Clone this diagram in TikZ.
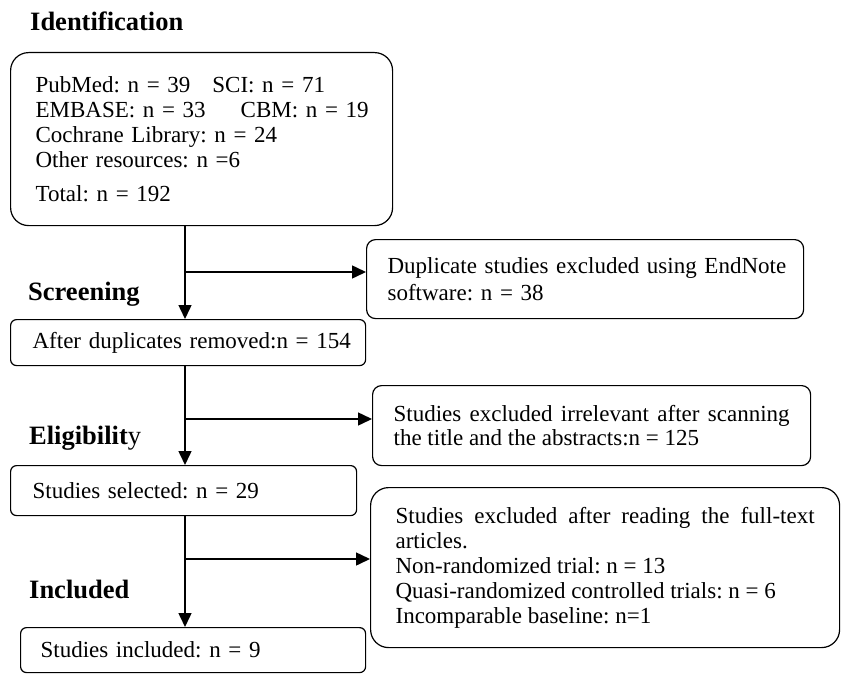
\documentclass[tikz,border=0pt]{standalone}
\usepackage{fontspec}
\setmainfont{Liberation Serif}
\usetikzlibrary{arrows.meta}
\tolerance=10000
\hbadness=10000
\hfuzz=50pt
\begin{document}
\frenchspacing
\begin{tikzpicture}[x=1pt,y=-1pt,
  box/.style={draw, line width=1.2pt, anchor=north west, inner ysep=0pt, font=\fontsize{23}{25}\selectfont\frenchspacing},
  hdr/.style={anchor=base west, inner sep=0pt, font=\fontsize{26.5}{30}\selectfont\bfseries},
  conn/.style={line width=1.5pt},
  arr/.style={conn, -{Triangle[length=14pt,width=13pt]}}
]
\useasboundingbox (0,0) rectangle (842,674);

\node[hdr] (hid) at (30,31) {Identification};
\node[hdr] (hsc) at (28,300) {Screening};
\node[hdr] (hel) at (29,444) {Eligibilit{\mdseries y}};
\node[hdr] (hin) at (29,598) {Included};

\node[box, rounded corners=18pt, minimum width=382pt, minimum height=173pt, text width=332pt, inner xsep=25pt, align=left] (top) at (10,52)
  {\mbox{PubMed: n = 39\hspace{22pt}SCI: n = 71}\\ \mbox{EMBASE: n = 33\hspace{35pt}CBM: n = 19}\\ \mbox{Cochrane Library: n = 24}\\ \mbox{Other resources: n =6}\\[9pt] \mbox{Total: n = 192}};

\node[box, rounded corners=9pt, minimum width=437pt, minimum height=79pt, text width=395pt, inner xsep=21pt, align=left, font=\fontsize{23}{27}\selectfont\frenchspacing] (dup) at (366,239)
  {\mbox{Duplicate studies excluded using EndNote}\\ \mbox{software: n = 38}};

\node[box, rounded corners=6pt, minimum width=355pt, minimum height=46pt, text width=311pt, inner xsep=22pt, align=left] (after) at (10,319)
  {\mbox{After duplicates removed:n = 154}};

\node[box, rounded corners=9pt, minimum width=438pt, minimum height=80pt, text width=396pt, inner xsep=21pt, align=justify, font=\fontsize{23}{24}\selectfont\frenchspacing] (irr) at (372,385)
  {Studies excluded irrelevant after scanning\linebreak the title and the abstracts:n = 125};

\node[box, rounded corners=6pt, minimum width=346pt, minimum height=50pt, text width=302pt, inner xsep=22pt, align=left] (sel) at (10,465)
  {\mbox{Studies selected: n = 29}};

\node[box, rounded corners=18pt, minimum width=469pt, minimum height=160pt, text width=419pt, inner xsep=25pt, align=justify] (full) at (370,487)
  {Studies excluded after reading the full-text\linebreak articles.\\ \mbox{Non-randomized trial: n = 13}\\ \mbox{Quasi-randomized controlled trials: n = 6}\\ \mbox{Incomparable baseline: n=1}};

\node[box, rounded corners=6pt, minimum width=345pt, minimum height=45pt, text width=305pt, inner xsep=20pt, align=left] (inc) at (20,627)
  {\mbox{Studies included: n = 9}};

\coordinate (b1) at (185,272);
\coordinate (b2) at (185,419);
\coordinate (b3) at (185,559);
\draw[arr] (b1 |- top.south) -- (b1 |- after.north);
\draw[arr] (b1) -- (b1 -| dup.west);
\draw[arr] (b2 |- after.south) -- (b2 |- sel.north);
\draw[arr] (b2) -- (b2 -| irr.west);
\draw[arr] (b3 |- sel.south) -- (b3 |- inc.north);
\draw[arr] (b3) -- (b3 -| full.west);
\end{tikzpicture}
\end{document}
